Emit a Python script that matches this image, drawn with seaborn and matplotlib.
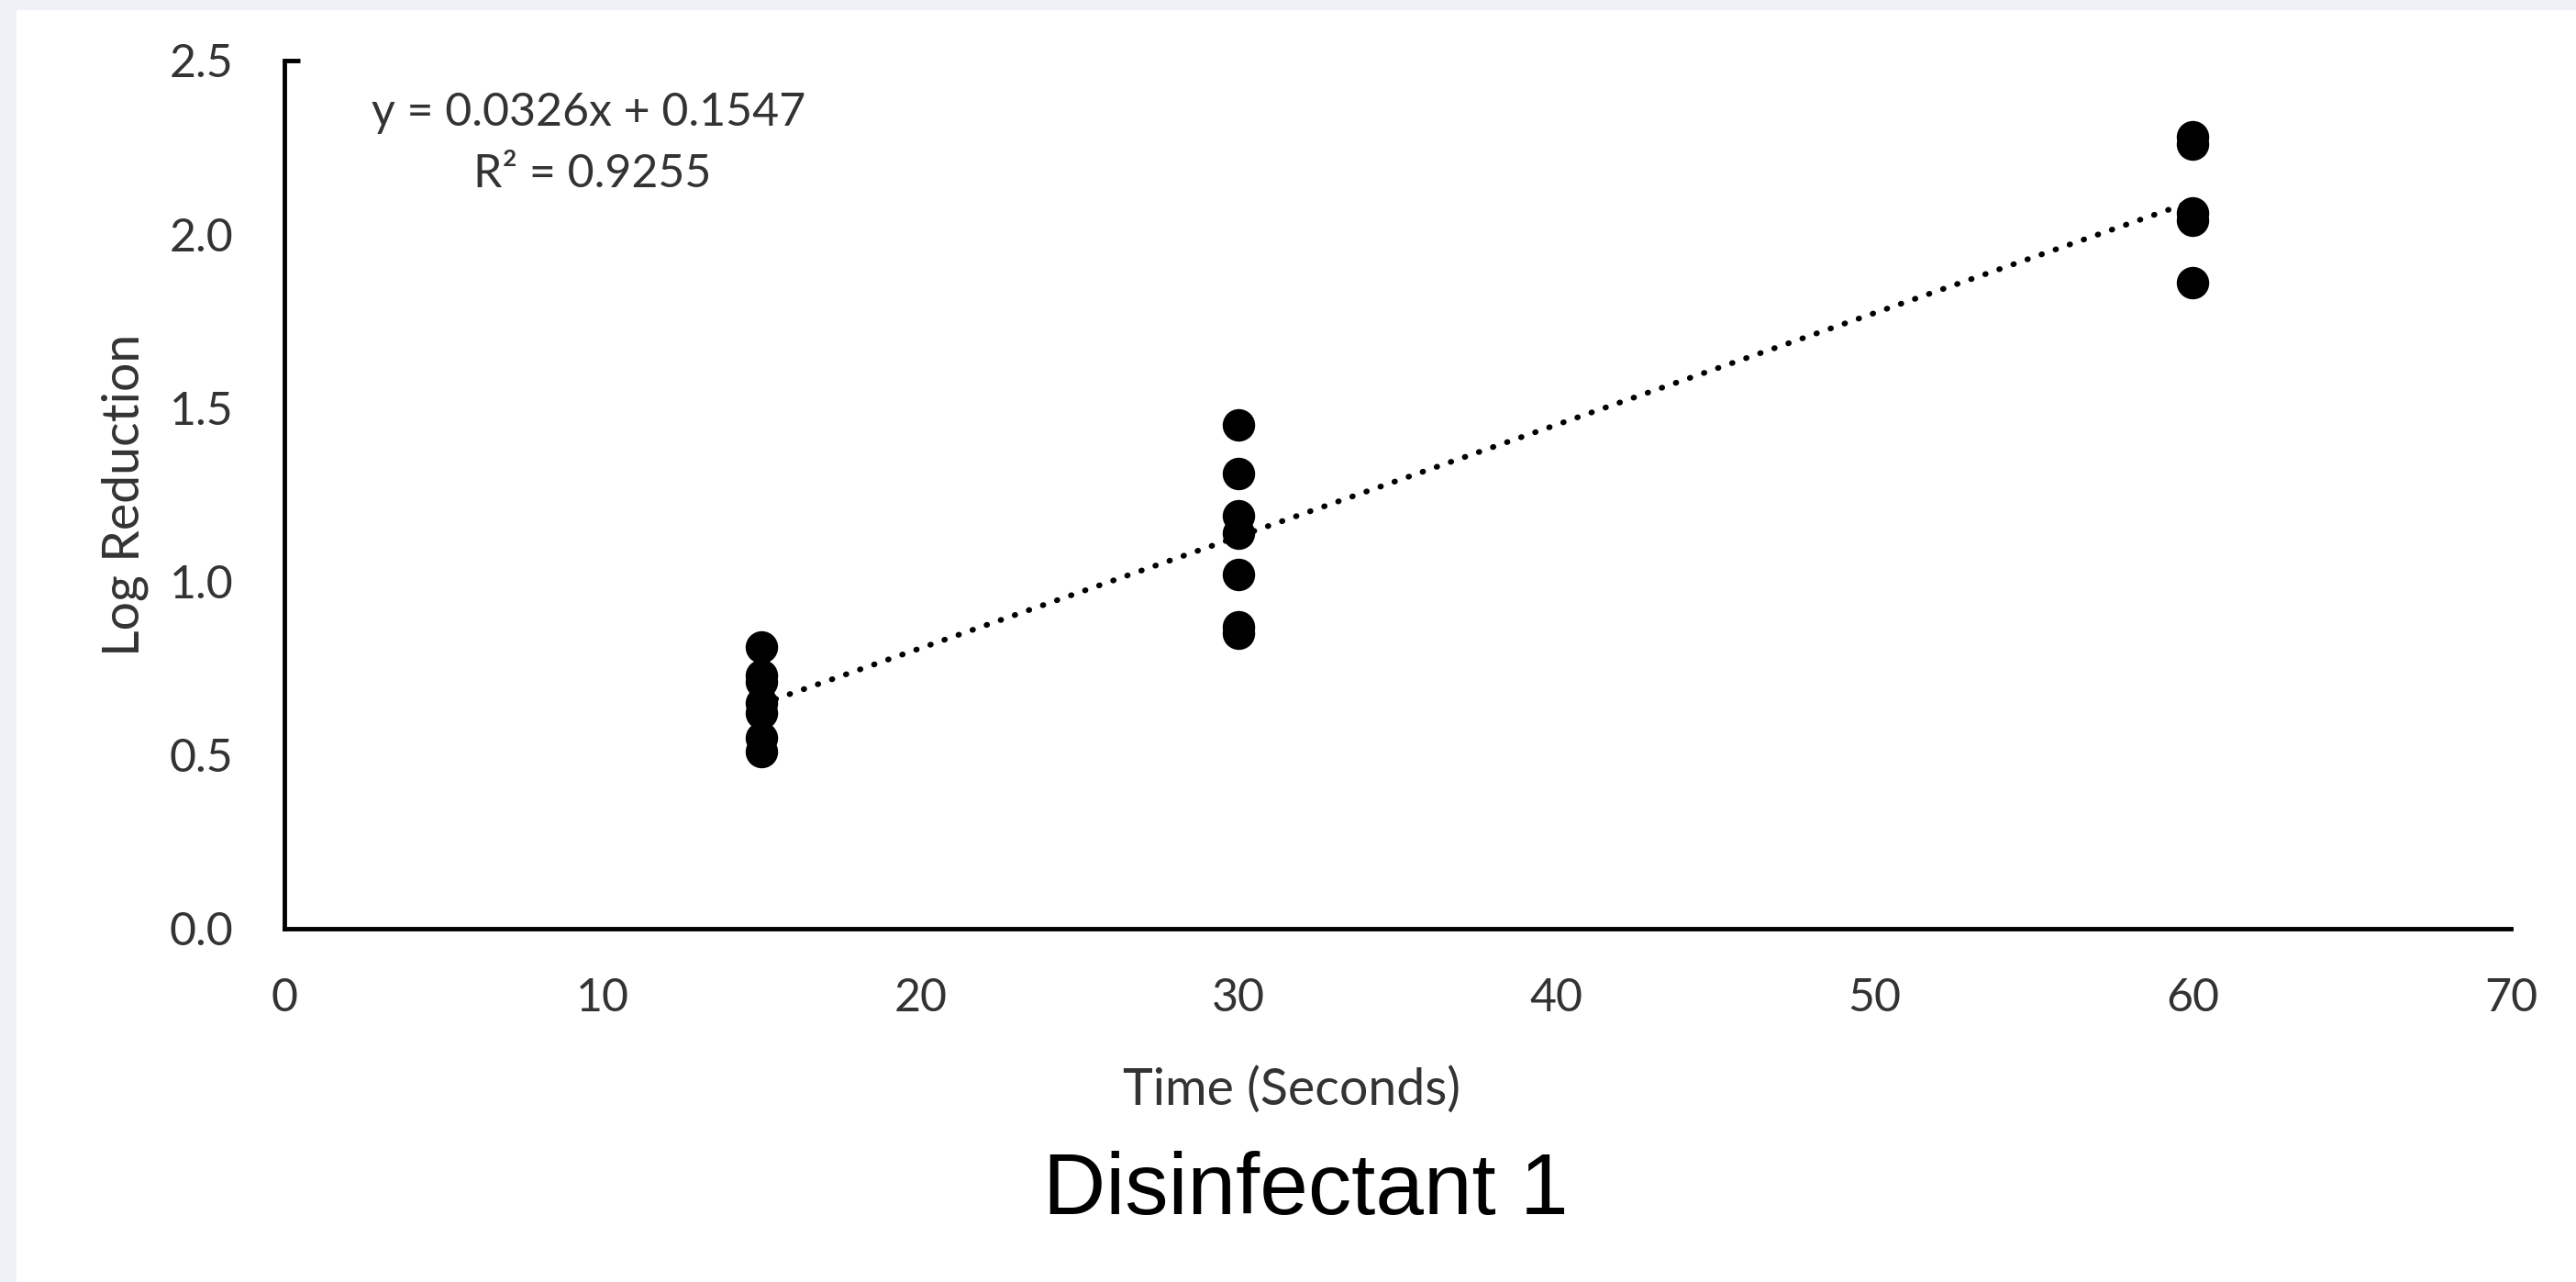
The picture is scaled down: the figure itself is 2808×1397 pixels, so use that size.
import matplotlib
matplotlib.use('Agg')
import matplotlib.pyplot as plt
import matplotlib.patches as mpatches
import seaborn as sns

# Datos
tiempo = [15, 15, 15, 15, 15, 15, 15,
          30, 30, 30, 30, 30, 30, 30,
          60, 60, 60, 60, 60]
reduccion_log = [0.81, 0.73, 0.71, 0.65, 0.62, 0.55, 0.51,
                 1.45, 1.31, 1.19, 1.14, 1.02, 0.87, 0.85,
                 2.28, 2.26, 2.06, 2.04, 1.86]
pendiente = 0.0326
ordenada = 0.1547
r2 = 0.9255
x_ticks = [0, 10, 20, 30, 40, 50, 60, 70]
y_ticks = [0.0, 0.5, 1.0, 1.5, 2.0, 2.5]

sns.set_style('white')
plt.rcParams['font.family'] = ['Lato', 'DejaVu Sans']

W, H = 2808, 1397
fig = plt.figure(figsize=(W / 100, H / 100), dpi=100)
fig.patch.set_facecolor('white')

# Marco gris claro arriba y a la izquierda
fig.patches.append(mpatches.Rectangle((0, 1 - 11 / H), 1, 11 / H, transform=fig.transFigure,
                                      facecolor='#eef1f6', edgecolor='none', zorder=0))
fig.patches.append(mpatches.Rectangle((0, 0), 18 / W, 1, transform=fig.transFigure,
                                      facecolor='#eef1f6', edgecolor='none', zorder=0))

ax = fig.add_axes([310 / W, 1 - 1012 / H, (2737 - 310) / W, (1012 - 66) / H])

sns.scatterplot(x=tiempo, y=reduccion_log, s=650, color='black', edgecolor='black',
                linewidth=0, ax=ax, zorder=3)
sns.regplot(x=tiempo, y=reduccion_log, scatter=False, ci=None, truncate=True, ax=ax,
            line_kws={'color': 'black', 'linewidth': 4.5, 'linestyle': (0, (0.1, 2.5)),
                      'dash_capstyle': 'round', 'zorder': 2})

ax.set_xlim(0, 70)
ax.set_ylim(0, 2.5)
ax.set_xticks(x_ticks)
ax.set_yticks(y_ticks)
ax.set_yticklabels([f'{v:.1f}' for v in y_ticks])
ax.yaxis.remove_overlapping_locs = False
ax.set_yticks([2.5], minor=True)
ax.tick_params(axis='both', which='major', length=0, labelsize=36, labelcolor='#333333')
ax.tick_params(axis='x', which='major', pad=38)
ax.tick_params(axis='y', which='major', pad=40)
ax.tick_params(axis='y', which='minor', direction='in', length=12, width=3.5, color='black',
               left=True, labelleft=False)

for lado in ['top', 'right']:
    ax.spines[lado].set_visible(False)
for lado in ['left', 'bottom']:
    ax.spines[lado].set_color('black')
    ax.spines[lado].set_linewidth(3.5)

ax.set_xlabel('Time (Seconds)', fontsize=40, color='#333333', va='center')
ax.xaxis.set_label_coords((1408 - 310) / (2737 - 310), (1012 - 1188) / (1012 - 66))
ax.set_ylabel('Log Reduction', fontsize=40, color='#333333', va='center')
ax.yaxis.set_label_coords((136 - 310) / (2737 - 310), 0.5)

fig.text(642 / W, 1 - 123 / H, f'y = {pendiente:.4f}x + {ordenada:.4f}', fontsize=36,
         color='#333333', ha='center', va='center')
fig.text(646 / W, 1 - 190 / H, f'R² = {r2:.4f}', fontsize=36,
         color='#333333', ha='center', va='center')

fig.text(1423 / W, 1 - 1299 / H, 'Disinfectant 1', fontsize=68, color='black',
         ha='center', va='center', family=['Liberation Sans', 'DejaVu Sans'])

plt.savefig('out.png', dpi=100)
